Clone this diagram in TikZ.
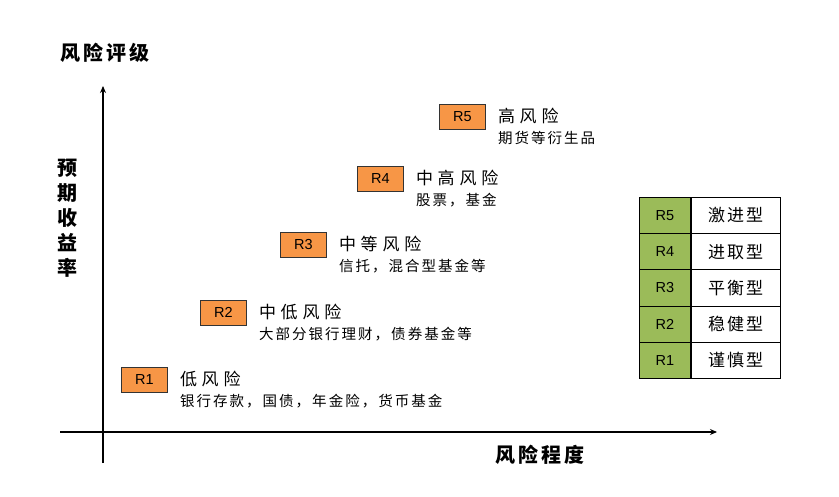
\documentclass[tikz,border=0pt]{standalone}
\usepackage{fontspec}
\setmainfont{Liberation Sans}
\newfontfamily\cjk{Noto Sans CJK SC}
\newfontfamily\cjksub[LetterSpace=14]{Noto Sans CJK SC}
\newfontfamily\cjkttl[LetterSpace=28]{Noto Sans CJK SC}
\newfontfamily\cjkcell[LetterSpace=12]{Noto Sans CJK SC}
\newfontfamily\cjkbig[LetterSpace=15]{Noto Sans CJK SC}
\usetikzlibrary{arrows.meta}
\definecolor{rorange}{HTML}{F79646}
\definecolor{rgreen}{HTML}{9BBB59}
\tikzset{
 rbox/.style={draw=black!80,fill=rorange,minimum width=46pt,minimum height=25pt,inner sep=0pt,font=\fontsize{14.5}{14.5}\selectfont,line width=0.8pt},
 ttl/.style={anchor=west,font=\cjkttl\fontsize{17}{17}\selectfont,inner sep=0pt},
 sub/.style={anchor=west,font=\cjksub\fontsize{14.5}{15}\selectfont,inner sep=0pt},
 gcell/.style={draw=black,fill=rgreen,minimum width=51pt,minimum height=36.2pt,inner sep=0pt,font=\fontsize{14.5}{14.5}\selectfont,line width=0.8pt},
 wcell/.style={draw=black,fill=white,minimum width=89pt,minimum height=36.2pt,inner sep=0pt,font=\cjkcell\fontsize{17}{17}\selectfont,line width=0.8pt},
 axis/.style={line width=1.6pt,-{Stealth[length=7pt,width=6pt]}},
 big/.style={font=\cjkbig\bfseries\fontsize{20}{20}\selectfont,inner sep=0pt}
}
\begin{document}
\begin{tikzpicture}[x=1pt,y=-1pt]
\useasboundingbox (0,0) rectangle (839,497);
\coordinate (yb) at (103,463); \coordinate (yt) at (103,86);
\coordinate (xl) at (60,432); \coordinate (xr) at (717,432);
\draw[axis] (yb) -- (yt);
\draw[axis] (xl) -- (xr);
\node[big] (t1) at (105,53) {风险评级};
\node[big,align=center,font=\cjk\bfseries\fontsize{20}{25}\selectfont] (t2) at (67,218) {预\\期\\收\\益\\率};
\node[big] (t3) at (540,455) {风险程度};
\foreach \n/\x/\y/\a/\b in {1/121/367/低风险/{银行存款，国债，年金险，货币基金},2/200/300/中低风险/{大部分银行理财，债券基金等},3/280/232/中等风险/{信托，混合型基金等},4/357/166/中高风险/{股票，基金},5/439/104/高风险/{期货等衍生品}}{
 \node[rbox,anchor=north west] (r\n) at (\x,\y) {R\n};
 \node[ttl] (a\n) at ([xshift=12pt,yshift=1pt]r\n.east) {\a};
 \node[sub] (b\n) at ([yshift=-22pt]a\n.west) {\b};
}
\foreach \n/\t [count=\i from 0] in {5/激进型,4/进取型,3/平衡型,2/稳健型,1/谨慎型}{
 \node[gcell,anchor=north west] (g\n) at (639,197+36.2*\i) {R\n};
 \node[wcell,anchor=west] (w\n) at (g\n.east) {\t};
}
\end{tikzpicture}
\end{document}
